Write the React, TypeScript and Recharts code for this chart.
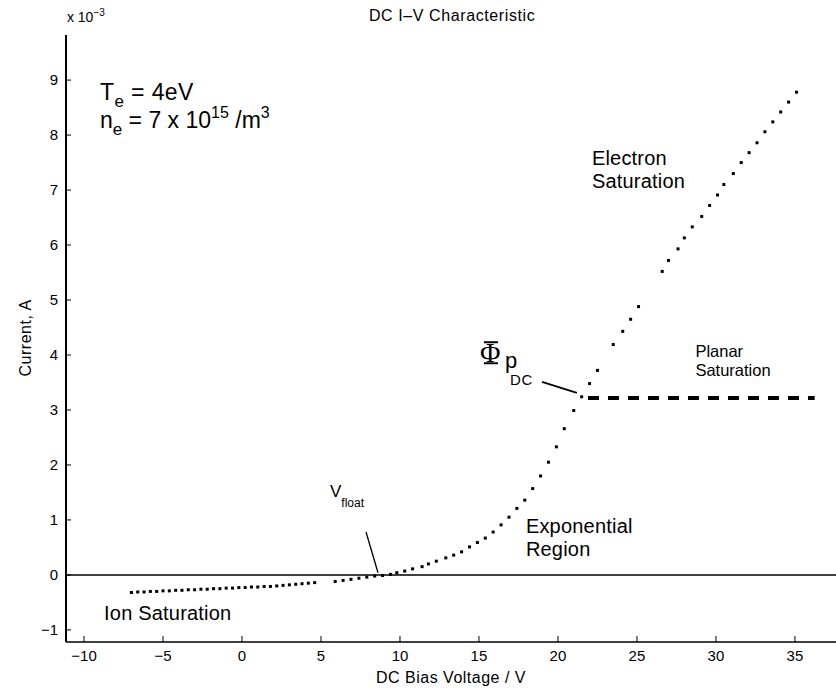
import React from 'react';
import { ScatterChart, Scatter, XAxis, YAxis, ReferenceLine, ReferenceDot } from 'recharts';

// Langmuir probe DC I-V characteristic (current in units of 1e-3 A)
const biasVoltage = [
  -7.0, -6.6, -6.2, -5.8, -5.4, -5.0, -4.6, -4.2, -3.8, -3.4, -3.0, -2.6, -2.2, -1.8, -1.4,
  -1.0, -0.6, -0.2, 0.2, 0.6, 1.0, 1.4, 1.8, 2.2, 2.6, 3.0, 3.4, 3.8, 4.2, 4.6,
  5.9, 6.4, 6.9, 7.4, 7.9, 8.4, 8.9, 9.4, 9.8, 10.3, 10.8, 11.4, 11.8, 12.3, 12.9, 13.4,
  13.9, 14.4, 14.9, 15.4, 15.9, 16.4, 16.9, 17.4, 17.9, 18.4, 18.9, 19.4, 19.9, 20.4,
  21.0, 21.5, 22.0, 22.5, 23.5, 24.1, 24.6, 25.1, 26.6, 27.0, 27.6, 28.0, 28.5, 29.1,
  29.6, 30.1, 30.5, 31.1, 31.6, 32.1, 32.6, 33.1, 33.6, 34.1, 34.6, 35.1,
];
const probeCurrent = [
  -0.32, -0.31, -0.31, -0.30, -0.30, -0.29, -0.29, -0.28, -0.28, -0.27, -0.27, -0.26, -0.26, -0.25, -0.25,
  -0.24, -0.24, -0.23, -0.23, -0.22, -0.22, -0.21, -0.21, -0.20, -0.19, -0.18, -0.17, -0.16, -0.15, -0.14,
  -0.12, -0.10, -0.08, -0.06, -0.04, -0.02, -0.01, 0.01, 0.04, 0.07, 0.11, 0.15, 0.20, 0.25, 0.31, 0.36,
  0.42, 0.51, 0.59, 0.67, 0.78, 0.91, 1.05, 1.21, 1.36, 1.57, 1.80, 2.05, 2.33, 2.66,
  2.99, 3.24, 3.48, 3.72, 4.19, 4.43, 4.65, 4.88, 5.52, 5.72, 5.93, 6.13, 6.33, 6.52,
  6.72, 6.91, 7.10, 7.30, 7.50, 7.68, 7.86, 8.06, 8.24, 8.42, 8.60, 8.78,
];

const planarVoltage = [21.9, 36.25];
const planarCurrent = [3.22, 3.22];

const xTicks = [-10, -5, 0, 5, 10, 15, 20, 25, 30, 35];
const yTicks = [-1, 0, 1, 2, 3, 4, 5, 6, 7, 8, 9];
const xDomain = [-11.14, 37.6];
const yDomain = [-1.22, 9.82];

// annotation pointers, data units
const vfloatPointer = [{ x: 7.85, y: 0.78 }, { x: 8.61, y: 0.04 }];
const plasmaPointer = [{ x: 18.99, y: 3.51 }, { x: 21.2, y: 3.31 }];

const FONT = '"Liberation Sans", Arial, Helvetica, sans-serif';

const curveData = biasVoltage.map((v, k) => ({ v, i: probeCurrent[k] }));
const planarData = planarVoltage.map((v, k) => ({ v, i: planarCurrent[k] }));

const fmt = (n: number) => (n < 0 ? '\u2212' + Math.abs(n) : String(n));

const XTick = (props: any) => {
  const { x, y, payload } = props;
  const axisY = y - 8;
  return (
    <g>
      <line x1={x} x2={x} y1={axisY} y2={axisY - 6} stroke="#000" strokeWidth={1} />
      <text x={x} y={y} dy="0.71em" textAnchor="middle" fontFamily={FONT} fontSize={15} fill="#000">
        {fmt(payload.value)}
      </text>
    </g>
  );
};

const YTick = (props: any) => {
  const { x, y, payload } = props;
  const axisX = x + 8;
  return (
    <g>
      <line x1={axisX} x2={axisX + 5} y1={y} y2={y} stroke="#000" strokeWidth={1} />
      <text x={x} y={y} dy="0.35em" textAnchor="end" fontFamily={FONT} fontSize={15} fill="#000">
        {fmt(payload.value)}
      </text>
    </g>
  );
};

const Dot = (props: any) => {
  const { cx, cy } = props;
  if (cx == null || cy == null) return <g />;
  return <rect x={cx - 1.5} y={cy - 1.5} width={3} height={3} fill="#000" />;
};

const txt = (content: (cx: number, cy: number) => React.ReactElement) => (p: any) => content(p.cx, p.cy);

export default function App() {
  return (
    <div style={{ position: 'absolute', left: 0, top: 0, width: 836, height: 690, background: '#fff' }}>
      <ScatterChart width={836} height={690} margin={{ top: 35, right: 0, bottom: 0, left: 0 }}>
        <XAxis
          type="number"
          dataKey="v"
          domain={xDomain}
          ticks={xTicks}
          allowDataOverflow
          height={48}
          axisLine={{ stroke: '#000', strokeWidth: 1.5 }}
          tickLine={false}
          tickSize={0}
          tickMargin={8}
          tick={<XTick />}
          label={{ value: 'DC Bias Voltage / V', position: 'insideBottom', offset: 7, fill: '#000', fontSize: 16, fontFamily: FONT, letterSpacing: 0.5 }}
        />
        <YAxis
          type="number"
          dataKey="i"
          domain={yDomain}
          ticks={yTicks}
          allowDataOverflow
          width={66}
          axisLine={{ stroke: '#000', strokeWidth: 2 }}
          tickLine={false}
          tickSize={0}
          tickMargin={8}
          tick={<YTick />}
        />
        <ReferenceLine y={0} stroke="#000" strokeWidth={1.5} />
        <ReferenceLine segment={vfloatPointer} stroke="#000" strokeWidth={1.3} />
        <ReferenceLine segment={plasmaPointer} stroke="#000" strokeWidth={1.8} />
        <Scatter data={curveData} shape={<Dot />} isAnimationActive={false} />
        <Scatter
          data={planarData}
          shape={() => <g />}
          line={{ stroke: '#000', strokeWidth: 4, strokeDasharray: '11 9' }}
          isAnimationActive={false}
        />

        {/* title */}
        <ReferenceDot x={13.3} y={10.07} r={0} ifOverflow="visible" shape={txt((cx, cy) => (
          <text x={cx} y={cy} textAnchor="middle" fontFamily={FONT} fontSize={16} letterSpacing={0.6} fill="#000">DC I–V Characteristic</text>
        ))} />
        {/* exponent */}
        <ReferenceDot x={-11.08} y={10.05} r={0} ifOverflow="visible" shape={txt((cx, cy) => (
          <text x={cx} y={cy} fontFamily={FONT} fontSize={14} fill="#000">
            x 10<tspan dy={-6} fontSize={10}>−3</tspan>
          </text>
        ))} />
        {/* y label */}
        <ReferenceDot x={-13.73} y={4.31} r={0} ifOverflow="visible" shape={txt((cx, cy) => (
          <text x={cx} y={cy} transform={`rotate(-90 ${cx} ${cy})`} textAnchor="middle" dy="0.35em" fontFamily={FONT} fontSize={16} letterSpacing={0.5} fill="#000">Current, A</text>
        ))} />
        {/* Te, ne */}
        <ReferenceDot x={-8.99} y={8.64} r={0} ifOverflow="visible" shape={txt((cx, cy) => (
          <text x={cx} y={cy} fontFamily={FONT} fontSize={23} letterSpacing={0.4} fill="#000">
            T<tspan dy={7} fontSize={17}>e</tspan><tspan dy={-7}> = 4eV</tspan>
          </text>
        ))} />
        <ReferenceDot x={-8.99} y={8.13} r={0} ifOverflow="visible" shape={txt((cx, cy) => (
          <text x={cx} y={cy} fontFamily={FONT} fontSize={23} fill="#000">
            n<tspan dy={7} fontSize={17}>e</tspan><tspan dy={-7}> = 7 x 10</tspan><tspan dy={-10} fontSize={16}>15</tspan><tspan dy={10}> /m</tspan><tspan dy={-10} fontSize={16}>3</tspan>
          </text>
        ))} />
        {/* region labels */}
        <ReferenceDot x={22.15} y={7.45} r={0} ifOverflow="visible" shape={txt((cx, cy) => (
          <text fontFamily={FONT} fontSize={20} letterSpacing={0.2} fill="#000">
            <tspan x={cx} y={cy}>Electron</tspan>
            <tspan x={cx} y={cy + 23}>Saturation</tspan>
          </text>
        ))} />
        <ReferenceDot x={28.7} y={3.96} r={0} ifOverflow="visible" shape={txt((cx, cy) => (
          <text fontFamily={FONT} fontSize={16.5} fill="#000">
            <tspan x={cx} y={cy}>Planar</tspan>
            <tspan x={cx} y={cy + 19}>Saturation</tspan>
          </text>
        ))} />
        <ReferenceDot x={17.97} y={0.76} r={0} ifOverflow="visible" shape={txt((cx, cy) => (
          <text fontFamily={FONT} fontSize={20} letterSpacing={0.2} fill="#000">
            <tspan x={cx} y={cy}>Exponential</tspan>
            <tspan x={cx} y={cy + 23}>Region</tspan>
          </text>
        ))} />
        <ReferenceDot x={-8.73} y={-0.82} r={0} ifOverflow="visible" shape={txt((cx, cy) => (
          <text x={cx} y={cy} fontFamily={FONT} fontSize={20} letterSpacing={0.2} fill="#000">Ion Saturation</text>
        ))} />
        {/* V float */}
        <ReferenceDot x={5.57} y={1.42} r={0} ifOverflow="visible" shape={txt((cx, cy) => (
          <text x={cx} y={cy} fontFamily={FONT} fontSize={17} fill="#000">
            V<tspan dy={10} fontSize={12}>float</tspan>
          </text>
        ))} />
        {/* Phi p_DC */}
        <ReferenceDot x={15.06} y={3.85} r={0} ifOverflow="visible" shape={txt((cx, cy) => (
          <g>
            <text x={cx} y={cy - 1} fontFamily='"Liberation Serif", "Times New Roman", serif' fontSize={28} fill="#000">Φ</text>
            <line x1={cx + 4} x2={cx + 18} y1={cy - 21} y2={cy - 21} stroke="#000" strokeWidth={2} />
            <line x1={cx + 4} x2={cx + 18} y1={cy} y2={cy} stroke="#000" strokeWidth={2} />
            <text x={cx + 25} y={cy + 5} fontFamily={FONT} fontSize={22} fill="#000">p</text>
            <text x={cx + 30} y={cy + 22} fontFamily={FONT} fontSize={15} letterSpacing={0.8} fill="#000">DC</text>
          </g>
        ))} />
      </ScatterChart>
    </div>
  );
}
